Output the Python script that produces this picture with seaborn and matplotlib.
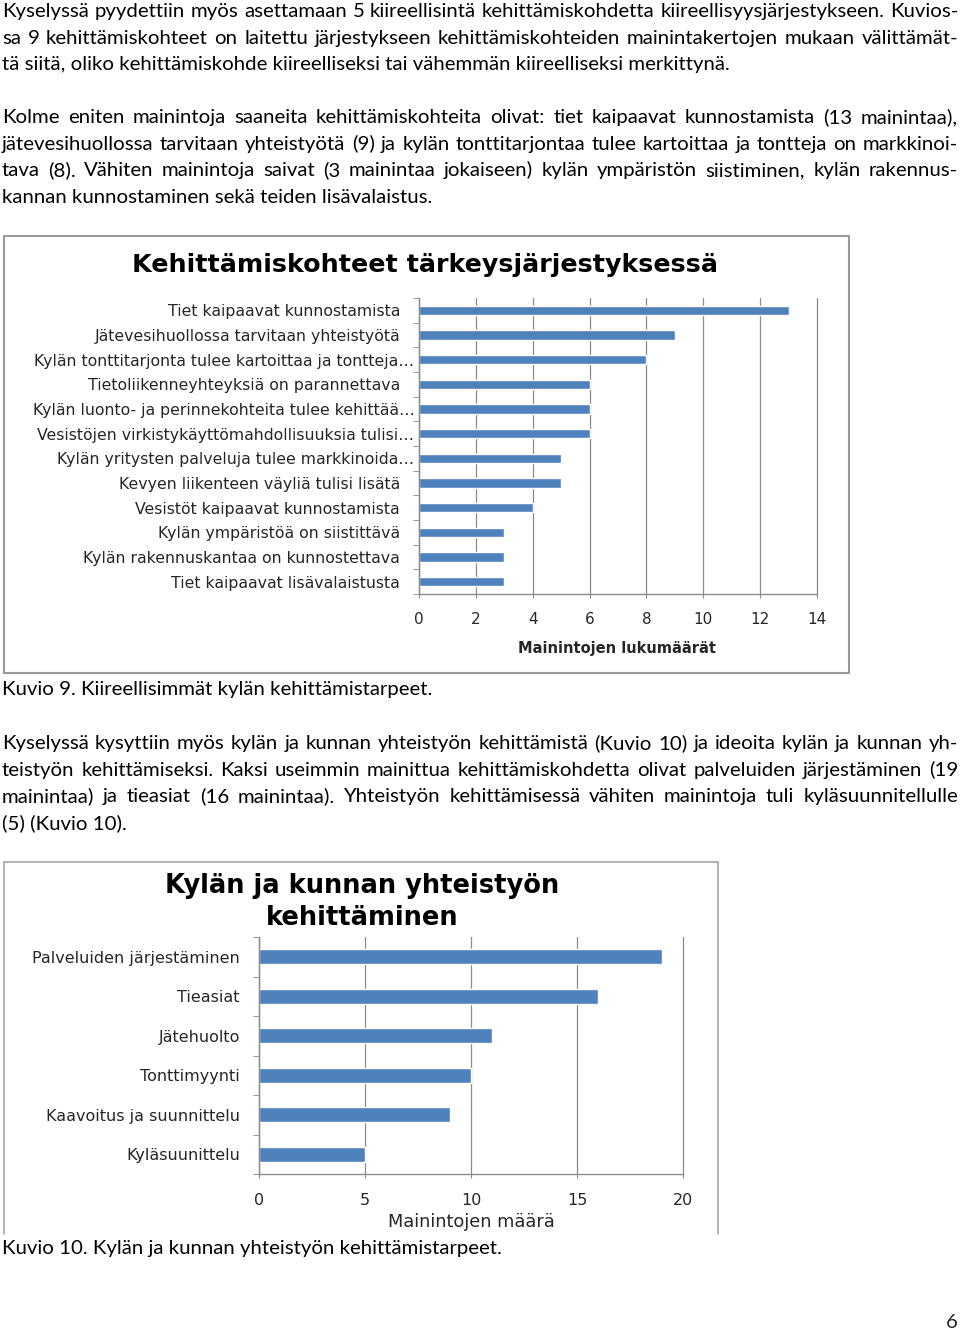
import matplotlib
matplotlib.use("Agg")
import matplotlib.pyplot as plt
from matplotlib.lines import Line2D
from matplotlib.patches import Rectangle
from matplotlib.ticker import FixedLocator
import seaborn as sns
import pandas as pd

# ---------------- data ----------------
chart1_title = "Kehittämiskohteet tärkeysjärjestyksessä"
chart1_categories = [
    "Tiet kaipaavat kunnostamista",
    "Jätevesihuollossa tarvitaan yhteistyötä",
    "Kylän tonttitarjonta tulee kartoittaa ja tontteja…",
    "Tietoliikenneyhteyksiä on parannettava",
    "Kylän luonto- ja perinnekohteita tulee kehittää…",
    "Vesistöjen virkistykäyttömahdollisuuksia tulisi…",
    "Kylän yritysten palveluja tulee markkinoida…",
    "Kevyen liikenteen väyliä tulisi lisätä",
    "Vesistöt kaipaavat kunnostamista",
    "Kylän ympäristöä on siistittävä",
    "Kylän rakennuskantaa on kunnostettava",
    "Tiet kaipaavat lisävalaistusta",
]
chart1_values = [13, 9, 8, 6, 6, 6, 5, 5, 4, 3, 3, 3]
chart1_xticks = [0, 2, 4, 6, 8, 10, 12, 14]
chart1_xlabel = "Mainintojen lukumäärät"

chart2_title = "Kylän ja kunnan yhteistyön\nkehittäminen"
chart2_categories = [
    "Palveluiden järjestäminen",
    "Tieasiat",
    "Jätehuolto",
    "Tonttimyynti",
    "Kaavoitus ja suunnittelu",
    "Kyläsuunittelu",
]
chart2_values = [19, 16, 11, 10, 9, 5]
chart2_xticks = [0, 5, 10, 15, 20]
chart2_xlabel = "Mainintojen määrä"

para1 = [
    "Kyselyssä pyydettiin myös asettamaan 5 kiireellisintä kehittämiskohdetta kiireellisyysjärjestykseen. Kuvios-",
    "sa 9 kehittämiskohteet on laitettu järjestykseen kehittämiskohteiden mainintakertojen mukaan välittämät-",
    "tä siitä, oliko kehittämiskohde kiireelliseksi tai vähemmän kiireelliseksi merkittynä.",
]
para2 = [
    "Kolme eniten mainintoja saaneita kehittämiskohteita olivat: tiet kaipaavat kunnostamista (13 mainintaa),",
    "jätevesihuollossa tarvitaan yhteistyötä (9) ja kylän tonttitarjontaa tulee kartoittaa ja tontteja on markkinoi-",
    "tava (8). Vähiten mainintoja saivat (3 mainintaa jokaiseen) kylän ympäristön siistiminen, kylän rakennus-",
    "kannan kunnostaminen sekä teiden lisävalaistus.",
]
caption1 = "Kuvio 9. Kiireellisimmät kylän kehittämistarpeet."
para3 = [
    "Kyselyssä kysyttiin myös kylän ja kunnan yhteistyön kehittämistä (Kuvio 10) ja ideoita kylän ja kunnan yh-",
    "teistyön kehittämiseksi. Kaksi useimmin mainittua kehittämiskohdetta olivat palveluiden järjestäminen (19",
    "mainintaa) ja tieasiat (16 mainintaa). Yhteistyön kehittämisessä vähiten mainintoja tuli kyläsuunnitellulle",
    "(5) (Kuvio 10).",
]
caption2 = "Kuvio 10. Kylän ja kunnan yhteistyön kehittämistarpeet."
page_number = "6"

# ---------------- layout helpers ----------------
W, H = 960, 1333
DPI = 100
sns.set_style("white")
plt.rcParams["font.family"] = ["DejaVu Sans"]
fig = plt.figure(figsize=(W / DPI, H / DPI), dpi=DPI)
fig.patch.set_facecolor("white")
renderer = fig.canvas.get_renderer()

BODY = ["Lato", "DejaVu Sans"]
BODY_SIZE = 14.65
BAR = "#4F81BD"
GRID = "#8c8c8c"
LABEL = "#262626"


def fx(x):
    return x / W


def fy(y):
    return 1 - y / H


def put_line(yc, line, justify, x0=2, x1=958):
    yb = fy(yc + 7)
    if not justify:
        fig.text(fx(x0), yb, line, fontsize=BODY_SIZE, family=BODY,
                 va="baseline", ha="left", color="black")
        return
    words = line.split(" ")
    texts = [fig.text(0, yb, w, fontsize=BODY_SIZE, family=BODY,
                      va="baseline", ha="left", color="black") for w in words]
    widths = [t.get_window_extent(renderer).width for t in texts]
    gap = (x1 - x0 - sum(widths)) / max(len(words) - 1, 1)
    x = x0
    for t, w in zip(texts, widths):
        t.set_x(fx(x))
        x += w + gap


def put_para(y0, lines, step=26.6):
    for i, ln in enumerate(lines):
        put_line(y0 + i * step, ln, justify=(i < len(lines) - 1))


put_para(10, para1)
put_para(116, para2)
put_line(688, caption1, justify=False)
put_para(742, para3)
put_line(1247, caption2, justify=False)
fig.text(fx(958), fy(1321 + 7), page_number, fontsize=BODY_SIZE, family=BODY,
         va="baseline", ha="right")

# frames
fig.add_artist(Rectangle((fx(3.5), fy(673)), fx(849 - 3.5), (673 - 235.5) / H,
                         transform=fig.transFigure, fill=False,
                         edgecolor="#9a9a9a", linewidth=1.5))
for (xa, ya, xb, yb) in [(3.5, 861.5, 3.5, 1234), (3.5, 861.5, 718, 861.5),
                         (718, 861.5, 718, 1234)]:
    fig.add_artist(Line2D([fx(xa), fx(xb)], [fy(ya), fy(yb)],
                          transform=fig.transFigure, color="#a6a6a6", linewidth=1.2))


def make_chart(box, cats, vals, xticks, xlabel, xlabel_bold, xlabel_size,
               label_xy, tick_pad, tick_size, cat_size, trunc_pad):
    l, t, r, b = box
    ax = fig.add_axes([fx(l), fy(b), fx(r - l), (b - t) / H])
    df = pd.DataFrame({"category": cats, "value": vals})
    sns.barplot(data=df, x="value", y="category", orient="h", color=BAR,
                saturation=1, width=0.37, ax=ax)
    ax.set_xlim(xticks[0], xticks[-1])
    ax.set_ylim(len(cats) - 0.5, -0.5)
    ax.set_xticks(xticks)
    ax.set_xticklabels([str(v) for v in xticks])
    ax.set_ylabel("")
    ax.set_facecolor("white")
    for s in ["top", "right"]:
        ax.spines[s].set_visible(False)
    for s in ["left", "bottom"]:
        ax.spines[s].set_color(GRID)
        ax.spines[s].set_linewidth(1.0)
    ax.set_axisbelow(True)
    ax.xaxis.grid(True, color=GRID, linewidth=0.9)
    ax.yaxis.grid(False)
    for gl in ax.get_xgridlines():
        gl.set_clip_on(False)
    ax.tick_params(axis="x", length=3, color=GRID, pad=tick_pad,
                   labelsize=tick_size, labelcolor=LABEL, direction="out", bottom=True)
    ax.tick_params(axis="y", which="major", length=0, labelsize=cat_size,
                   labelcolor=LABEL, left=True)
    ax.yaxis.set_minor_locator(FixedLocator([i - 0.5 for i in range(len(cats) + 1)]))
    ax.tick_params(axis="y", which="minor", length=4, color=GRID,
                   direction="out", left=True)
    for tick, cat in zip(ax.yaxis.get_major_ticks(), cats):
        tick.set_pad(trunc_pad if cat.endswith("…") else 13.7)
    ax.set_xlabel(xlabel, fontsize=xlabel_size,
                  fontweight="bold" if xlabel_bold else "normal", color=LABEL)
    ax.xaxis.set_label_coords(label_xy[0], label_xy[1])
    ax.xaxis.label.set_va("center")
    return ax


# chart 1
make_chart((419, 298, 817, 594), chart1_categories, chart1_values, chart1_xticks,
           chart1_xlabel, True, 10.5, ((617 - 419) / 398, (594 - 648) / 296),
           tick_pad=10, tick_size=11, cat_size=11.3, trunc_pad=3.3)
fig.text(fx(425), fy(265), chart1_title, fontsize=18.3, fontweight="bold",
         ha="center", va="center", color="black")

# chart 2
make_chart((259, 937, 683, 1174), chart2_categories, chart2_values, chart2_xticks,
           chart2_xlabel, False, 12.8, ((471 - 259) / 424, (1174 - 1222) / 237),
           tick_pad=10.5, tick_size=11.5, cat_size=11.5, trunc_pad=3.3)
fig.text(fx(362), fy(902), chart2_title, fontsize=18.5, fontweight="bold",
         ha="center", va="center", color="black", linespacing=1.32)

fig.savefig("out.png", dpi=DPI, facecolor="white")
